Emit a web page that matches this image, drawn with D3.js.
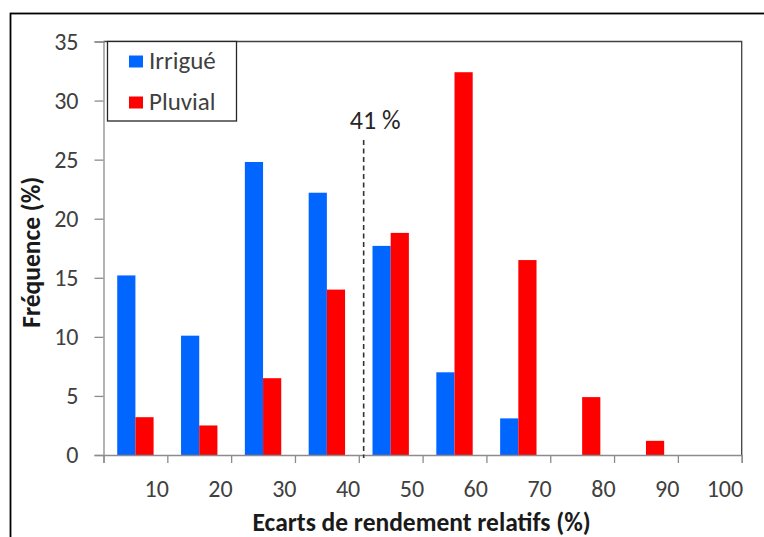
<!DOCTYPE html>
<html>
<head>
<meta charset="utf-8">
<script src="https://cdn.jsdelivr.net/npm/d3@7"></script>
<style>
  html, body { margin: 0; padding: 0; background: #fff; }
  svg { display: block; }
  text { font-family: Calibri, Carlito, Lato, sans-serif; }
</style>
</head>
<body>
<svg id="chart" width="764" height="537"></svg>
<script>
// Relative yield gap classes (upper bound of each 10 % class)
const classes = [10, 20, 30, 40, 50, 60, 70, 80, 90, 100];
// Frequency (%) per class
const irrigue = [15.2, 10.1, 24.8, 22.2, 17.7, 7.0, 3.1, 0, 0, 0];
const pluvial = [3.2, 2.5, 6.5, 14.0, 18.8, 32.4, 16.5, 4.9, 1.2, 0];
const seriesNames = ["Irrigué", "Pluvial"];
const seriesColors = ["#0066ff", "#ff0000"];
const yTicks = [0, 5, 10, 15, 20, 25, 30, 35];
const xTicks = [0, 10, 20, 30, 40, 50, 60, 70, 80, 90, 100];
const threshold = 41;
const thresholdLabel = "41 %";

const svg = d3.select("#chart");
const plotL = 103.5, plotR = 741.7, plotT = 41.5, plotB = 455;
const fontStack = "Calibri, Carlito, Lato, sans-serif";

const x = d3.scaleLinear().domain([0, 100]).range([plotL, plotR]);
const y = d3.scaleLinear().domain([0, 35]).range([plotB, plotT]);
const xBand = d3.scaleBand().domain(classes).range([plotL, plotR])
  .paddingInner(0.43).paddingOuter(0.215);
const xSub = d3.scaleBand().domain(seriesNames).range([0, xBand.bandwidth()]);

// outer frame
svg.append("rect").attr("x", 10.5).attr("y", 13.5).attr("width", 800).attr("height", 600)
  .attr("fill", "none").attr("stroke", "#000").attr("stroke-width", 1.8);

// plot area border (top / right)
svg.append("path")
  .attr("d", `M${plotL},${plotT}H${plotR}V${plotB}`)
  .attr("fill", "none").attr("stroke", "#404040").attr("stroke-width", 1.3);

// bars
const rows = classes.map((c, i) => ({ c, vals: [irrigue[i], pluvial[i]] }));
const groups = svg.append("g").selectAll("g").data(rows).join("g")
  .attr("transform", d => `translate(${xBand(d.c)},0)`);
groups.selectAll("rect")
  .data(d => d.vals.map((v, k) => ({ v, k })).filter(e => e.v > 0))
  .join("rect")
  .attr("x", e => xSub(seriesNames[e.k]))
  .attr("width", xSub.bandwidth())
  .attr("y", e => y(e.v))
  .attr("height", e => y(0) - y(e.v))
  .attr("fill", e => seriesColors[e.k]);

// y axis
const yAxis = svg.append("g").attr("transform", `translate(${plotL},0)`)
  .call(d3.axisLeft(y).tickValues(yTicks).tickSize(9).tickPadding(16).tickFormat(d3.format("d")));
yAxis.select(".domain").attr("stroke", "#8c8c8c").attr("stroke-width", 1.3);
yAxis.selectAll(".tick line").attr("stroke", "#8c8c8c").attr("stroke-width", 1.3);
yAxis.selectAll(".tick text").attr("font-size", 24).attr("fill", "#404040")
  .attr("font-family", fontStack);

// x axis: labels sit left of their tick (end-anchored)
const xAxis = svg.append("g").attr("transform", `translate(0,${plotB})`)
  .call(d3.axisBottom(x).tickValues(xTicks).tickSize(8).tickFormat(d => d === 0 ? "" : d));
xAxis.select(".domain").attr("stroke", "#8c8c8c").attr("stroke-width", 1.3);
xAxis.selectAll(".tick line").attr("stroke", "#8c8c8c").attr("stroke-width", 1.3);
xAxis.selectAll(".tick text").attr("font-size", 24).attr("fill", "#404040")
  .attr("font-family", fontStack)
  .attr("text-anchor", "end").attr("x", 1).attr("y", 41.5).attr("dy", null);

// threshold line
svg.append("line")
  .attr("x1", x(threshold) - 1.5).attr("x2", x(threshold) - 1.5)
  .attr("y1", 140).attr("y2", plotB + 3)
  .attr("stroke", "#333").attr("stroke-width", 1.6).attr("stroke-dasharray", "5,3.5");
svg.append("text").attr("x", x(threshold) + 10).attr("y", 128.5)
  .attr("text-anchor", "middle").attr("font-size", 26).attr("fill", "#262626")
  .text(thresholdLabel);

// axis titles
svg.append("text").attr("x", (plotL + plotR) / 2 - 1).attr("y", 531)
  .attr("text-anchor", "middle").attr("font-size", 25.5).attr("font-weight", "bold").attr("fill", "#1a1a1a")
  .text("Ecarts de rendement relatifs (%)");
svg.append("text").attr("transform", `translate(40,${(plotT + plotB) / 2 + 4}) rotate(-90)`)
  .attr("text-anchor", "middle").attr("font-size", 25.5).attr("font-weight", "bold").attr("fill", "#1a1a1a")
  .text("Fréquence (%)");

// legend
const lg = svg.append("g");
lg.append("rect").attr("x", 107.5).attr("y", 41.5).attr("width", 129).attr("height", 79.5)
  .attr("fill", "#fff").attr("stroke", "#262626").attr("stroke-width", 1.3);
seriesNames.forEach((name, i) => {
  const yy = 61.5 + i * 41;
  lg.append("rect").attr("x", 129).attr("y", yy - 6).attr("width", 14).attr("height", 12)
    .attr("fill", seriesColors[i]);
  lg.append("text").attr("x", 149).attr("y", yy + 7).attr("font-size", 25).attr("fill", "#404040")
    .text(name);
});
</script>
</body>
</html>
